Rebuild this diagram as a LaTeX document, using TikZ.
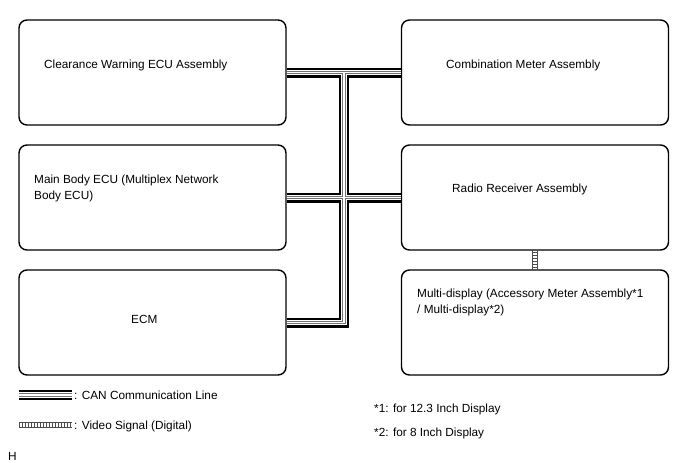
\documentclass[tikz,border=0pt]{standalone}
\usepackage{fontspec}
\setmainfont{Liberation Sans}
\def\canpath{(cw.east) -- (cm.west) (mb.east) -- (rr.west) (ecm.east) -| (j) (lc1) -- (lc2)}
\tikzset{
  box/.style={draw=black, line width=1.4pt, rounded corners=8pt, minimum width=267pt, minimum height=105pt, inner sep=0pt},
  lbl/.style={anchor=base west, inner sep=0pt, font=\fontsize{11.8}{14}\selectfont},
  ladder/.style={draw=black!70, line width=0.7pt}
}
\begin{document}
\begin{tikzpicture}[x=1pt,y=-1pt]
\useasboundingbox (0,0) rectangle (688,463);
% boxes
\node[box] (cw) at (152.5,72.5) {};
\node[box] (mb) at (152.5,197.5) {};
\node[box] (ecm) at (152.5,322.5) {};
\node[box] (cm) at (535,72.5) {};
\node[box] (rr) at (535,197.5) {};
\node[box] (md) at (535,322.5) {};
% texts
\node[lbl] (t1) at (44,68) {Clearance Warning ECU Assembly};
\node[lbl] (t2) at (446,68) {Combination Meter Assembly};
\node[lbl] (t3) at (34,183) {Main Body ECU (Multiplex Network};
\node[lbl] (t3b) at (34,199) {Body ECU)};
\node[lbl] (t4) at (452,192) {Radio Receiver Assembly};
\node[lbl] (t5) at (131,323) {ECM};
\node[lbl] (t6) at (417,297) {Multi-display (Accessory Meter Assembly*1};
\node[lbl] (t6b) at (417,313) {/ Multi-display*2)};
\node[lbl] (l1) at (74,399) {: CAN Communication Line};
\node[lbl] (l2) at (74,429) {: Video Signal (Digital)};
\node[lbl] (f1) at (374,412) {*1: for 12.3 Inch Display};
\node[lbl] (f2) at (374,436) {*2: for 8 Inch Display};
\node[lbl] (h) at (8,460) {H};
% CAN lines
\coordinate (j) at (344,72.5);
\coordinate (lc1) at (19,395);
\coordinate (lc2) at (72,395);
\draw[black, line width=10pt] \canpath;
\draw[white, line width=5.6pt] \canpath;
\draw[black!55, line width=3.8pt] \canpath;
\draw[white, line width=1.8pt] \canpath;
% video link
\coordinate (vt) at (534.5,250);
\coordinate (vb) at (534.5,270);
\draw[ladder] ([xshift=-2.5pt]vt) -- ([xshift=-2.5pt]vb) ([xshift=2.5pt]vt) -- ([xshift=2.5pt]vb);
\foreach \y in {252.5,255.5,...,268.5} \draw[ladder] (532,\y) -- (537,\y);
% video legend
\coordinate (lv1) at (19,425);
\coordinate (lv2) at (72,425);
\draw[ladder] ([yshift=-2.5pt]lv1) -- ([yshift=-2.5pt]lv2) ([yshift=2.5pt]lv1) -- ([yshift=2.5pt]lv2);
\foreach \x in {19,22,...,72} \draw[ladder] (\x,422.5) -- (\x,427.5);
\end{tikzpicture}
\end{document}
